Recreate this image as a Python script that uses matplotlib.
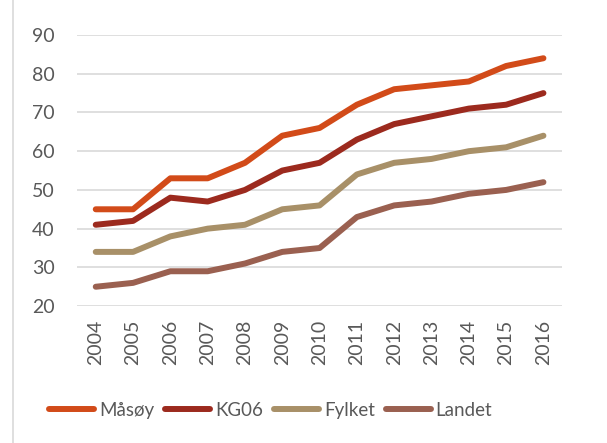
import numpy as np
import matplotlib.pyplot as plt

years = ['2004', '2005', '2006', '2007', '2008', '2009', '2010',
         '2011', '2012', '2013', '2014', '2015', '2016']
masoy = [45, 45, 53, 53, 57, 64, 66, 72, 76, 77, 78, 82, 84]
kg06 = [41, 42, 48, 47, 50, 55, 57, 63, 67, 69, 71, 72, 75]
fylket = [34, 34, 38, 40, 41, 45, 46, 54, 57, 58, 60, 61, 64]
landet = [25, 26, 29, 29, 31, 34, 35, 43, 46, 47, 49, 50, 52]

series = [('Måsøy', masoy, '#D24B19'),
          ('KG06', kg06, '#9C2A1E'),
          ('Fylket', fylket, '#A89068'),
          ('Landet', landet, '#9A6050')]

plt.rcParams['font.family'] = ['Lato', 'DejaVu Sans']

fig = plt.figure(figsize=(6.07, 4.43), dpi=100)
ax = fig.add_axes([0.127, 0.309, 0.799, 0.612])
x = np.arange(len(years))
for name, vals, col in series:
    ax.plot(x, vals, color=col, lw=4.3, solid_capstyle='round',
            solid_joinstyle='round', label=name)

ax.set_xlim(-0.5, len(years) - 0.5)
ax.set_ylim(20, 90)
ax.set_yticks(np.arange(20, 91, 10))
ax.set_xticks(x)
ax.set_xticklabels(years, rotation=90)
ax.tick_params(length=0, labelsize=14, colors='#595959')
ax.tick_params(axis='x', pad=10)
ax.tick_params(axis='y', pad=16)
ax.grid(axis='y', color='#D9D9D9', lw=1.2)
ax.set_axisbelow(True)
for s in ax.spines.values():
    s.set_visible(False)

fig.legend(loc='center', bbox_to_anchor=(0.446, 0.074), ncol=4, frameon=False,
           fontsize=13.5, handlelength=2.4, handletextpad=0.25, columnspacing=0.6,
           labelcolor='#595959')

fig.add_artist(plt.Line2D([0.021, 0.021], [0.0, 1.0], color='#D9D9D9', lw=1.2))

fig.savefig('out.png', dpi=100)
